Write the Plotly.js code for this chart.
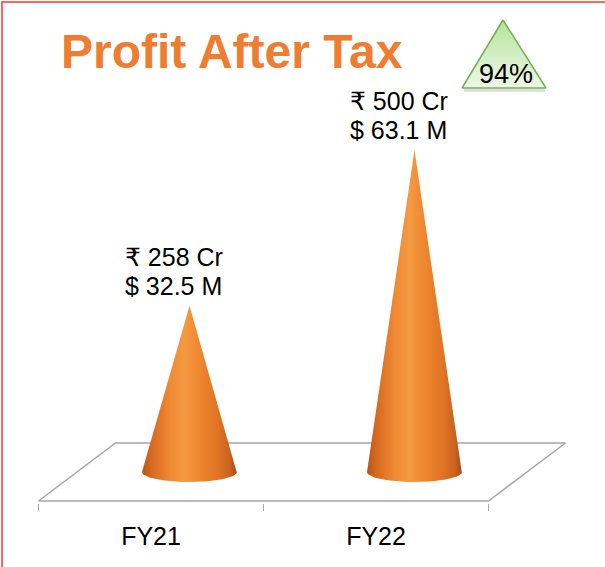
<!DOCTYPE html>
<html><head><meta charset="utf-8">
<script src="https://cdn.plot.ly/plotly-3.0.1.min.js"></script>
<style>html,body{margin:0;padding:0;background:#fff;}#chart{width:605px;height:567px;}</style>
</head><body><div id="chart"></div>
<script>
// ---- data ----
const categories = ['FY21', 'FY22'];
const profitCr = [258, 500];
const rupeeLabels = ['₹ 258 Cr', '₹ 500 Cr'];
const dollarLabels = ['$ 32.5 M', '$ 63.1 M'];
const chartTitle = 'Profit After Tax';

// ---- geometry (pixels) ----
const W = 605, H = 567;
const PX_PER_CAT = 225, X0_PX = 151;
const BASE_PX = 472, PX_PER_UNIT = 0.644;
const plotL = 20, plotR = 590, plotT = 30, plotB = 503;
const xr = [(plotL - X0_PX) / PX_PER_CAT, (plotR - X0_PX) / PX_PER_CAT];
const yr = [(BASE_PX - plotB) / PX_PER_UNIT, (BASE_PX - plotT) / PX_PER_UNIT];
const depthX = 77 / PX_PER_CAT, depthY = 58 / PX_PER_UNIT;
const floorFront = (BASE_PX - 501) / PX_PER_UNIT;
const floorBack = floorFront + depthY;
const coneOff = depthX / 2;
const coneHalfW = 47.5 / PX_PER_CAT;
const ellB = 10 / PX_PER_UNIT;
const FONT = 'Liberation Sans, Arial, DejaVu Sans, sans-serif';

const traces = [];
// floor
traces.push({
  x: [-0.5, categories.length - 0.5, categories.length - 0.5 + depthX, -0.5 + depthX, -0.5],
  y: [floorFront, floorFront, floorBack, floorBack, floorFront],
  mode: 'lines', fill: 'toself', fillcolor: '#ffffff',
  line: {color: '#A6A6A6', width: 1.5}, hoverinfo: 'skip', showlegend: false
});
// cones
categories.forEach((c, i) => {
  const cx = i + coneOff;
  const xs = [cx], ys = [profitCr[i]];
  const N = 40;
  for (let k = 0; k <= N; k++) {
    const t = Math.PI * k / N;
    xs.push(cx + coneHalfW * Math.cos(t));
    ys.push(-ellB * Math.sin(t));
  }
  xs.push(cx); ys.push(profitCr[i]);
  traces.push({
    x: xs, y: ys, mode: 'lines', fill: 'toself',
    line: {width: 0, color: 'rgba(0,0,0,0)'},
    fillgradient: {type: 'horizontal', colorscale: [
      [0, '#B5541A'], [0.1, '#D8691F'], [0.3, '#F08A34'], [0.45, '#F59A42'],
      [0.6, '#EE8730'], [0.8, '#E07424'], [0.93, '#C9621E'], [1, '#A64A17']]},
    hoverinfo: 'skip', showlegend: false, name: c
  });
});
// badge shadow + triangle (pixel axes)
traces.push({
  x: [464, 545], y: [90.5, 90.5], xaxis: 'x2', yaxis: 'y2', mode: 'lines',
  line: {color: 'rgba(0,0,0,0.12)', width: 3}, hoverinfo: 'skip', showlegend: false
});
traces.push({
  x: [503, 546, 462, 503], y: [20, 88, 88, 20], xaxis: 'x2', yaxis: 'y2',
  mode: 'lines', fill: 'toself',
  fillgradient: {type: 'vertical', colorscale: [[0, '#EEF9E8'], [1, '#B6E29C']]},
  line: {color: '#74B04F', width: 1.5}, hoverinfo: 'skip', showlegend: false
});

const growth = Math.round((profitCr[1] / profitCr[0] - 1) * 100) + '%';

const annotations = [];
categories.forEach((c, i) => {
  annotations.push({x: i + coneOff, y: profitCr[i], xref: 'x', yref: 'y', text: dollarLabels[i],
    showarrow: false, xanchor: 'center', yanchor: 'bottom', xshift: -16, yshift: 4,
    font: {family: FONT, size: 25, color: '#000'}});
  annotations.push({x: i + coneOff, y: profitCr[i], xref: 'x', yref: 'y', text: rupeeLabels[i],
    showarrow: false, xanchor: 'center', yanchor: 'bottom', xshift: -16, yshift: 33,
    font: {family: FONT, size: 25, color: '#000'}});
});
annotations.push({x: 506, y: 73.5, xref: 'x2', yref: 'y2', text: growth, showarrow: false,
  xanchor: 'center', yanchor: 'middle', font: {family: FONT, size: 27, color: '#000'}});

const layout = {
  width: W, height: H, margin: {l: 0, r: 0, t: 0, b: 0},
  paper_bgcolor: '#ffffff', plot_bgcolor: 'rgba(0,0,0,0)', showlegend: false,
  title: {text: '<b>' + chartTitle + '</b>', xref: 'container', yref: 'container',
    x: 61 / W, xanchor: 'left', y: 1 - 34 / H, yanchor: 'top',
    font: {family: FONT, size: 48, color: '#EE7D31'}},
  xaxis: {domain: [plotL / W, plotR / W], range: xr, showgrid: false, zeroline: false, showline: false,
    tickmode: 'array', tickvals: categories.map((c, i) => i), ticktext: categories, ticks: '',
    tickfont: {family: FONT, size: 25, color: '#000'}, ticklabelstandoff: 16, automargin: false,
    minor: {tick0: -0.5, dtick: 1, ticks: 'outside', ticklen: 7, tickwidth: 1.5, tickcolor: '#A6A6A6', showgrid: false},
    fixedrange: true},
  yaxis: {domain: [(H - plotB) / H, (H - plotT) / H], range: yr, visible: false, fixedrange: true},
  xaxis2: {domain: [0, 1], range: [0, W], anchor: 'y2', visible: false, fixedrange: true},
  yaxis2: {domain: [0, 1], range: [H, 0], anchor: 'x2', visible: false, fixedrange: true},
  shapes: [{type: 'rect', xref: 'x2', yref: 'y2', x0: 2, y0: 2, x1: 900, y1: 900,
    line: {color: '#F26B6B', width: 2}, fillcolor: 'rgba(0,0,0,0)'}],
  annotations: annotations
};

Plotly.newPlot('chart', traces, layout, {displayModeBar: false, staticPlot: true});
</script>
</body></html>
